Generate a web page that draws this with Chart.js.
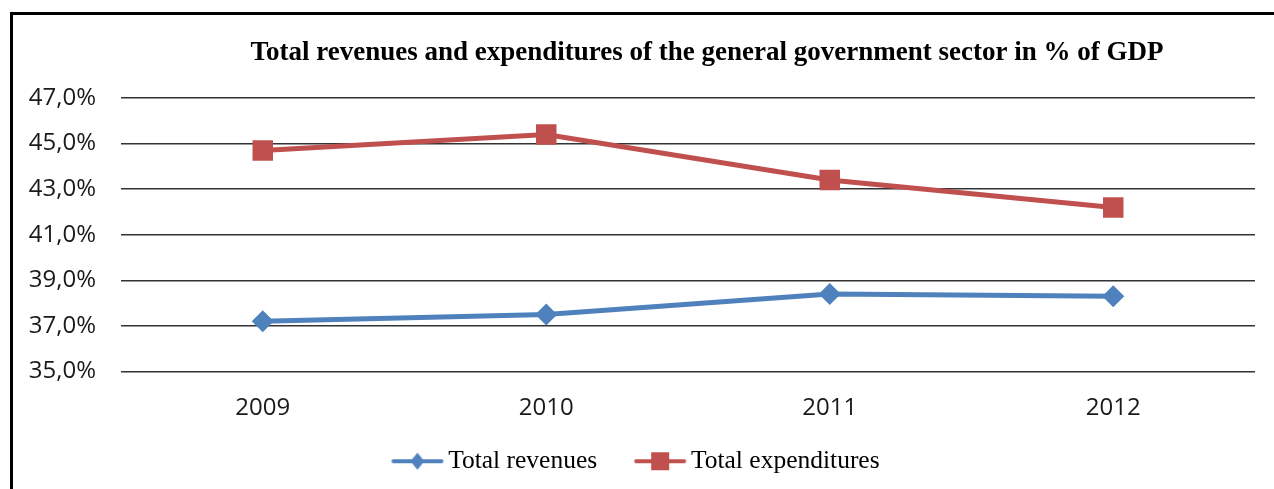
<!DOCTYPE html>
<html lang="en">
<head>
<meta charset="UTF-8">
<title>Total revenues and expenditures</title>
<script src="https://cdn.jsdelivr.net/npm/chart.js"></script>
<style>
    html, body { margin: 0; padding: 0; background: #fff; overflow: hidden; }
    #wrap { position: relative; width: 1274px; height: 489px; }
    #frame {
        position: absolute; left: 10px; top: 12px; right: -5px; bottom: -5px;
        border-top: 3px solid #000; border-left: 3px solid #000;
        pointer-events: none;
    }
</style>
</head>
<body>
<div id="wrap">
    <canvas id="myLineChart" width="1274" height="489"></canvas>
    <div id="frame"></div>
</div>
<script>
// data
var years = ['2009', '2010', '2011', '2012'];
var revenues = [37.2, 37.5, 38.4, 38.3];
var expenditures = [44.7, 45.4, 43.4, 42.2];
var seriesNames = ['Total revenues', 'Total expenditures'];
var titleText = 'Total revenues and expenditures of the general government sector in % of GDP';
var yMin = 35, yMax = 47, yStep = 2;

var blue = '#4F81BD';
var red = '#C0504D';

// line+marker picture for the legend (80px wide, centred on a 60px box);
// the line sits on the right part so it ends just before the text
function legendIcon(color, shape) {
    var c = document.createElement('canvas');
    c.width = 80; c.height = 24;
    var g = c.getContext('2d');
    g.strokeStyle = color;
    g.lineWidth = 4;
    g.lineCap = 'round';
    g.beginPath(); g.moveTo(28, 12); g.lineTo(76, 12); g.stroke();
    g.fillStyle = color;
    if (shape === 'diamond') {
        g.beginPath();
        g.moveTo(52, 3.5); g.lineTo(59, 12); g.lineTo(52, 20.5); g.lineTo(45, 12);
        g.closePath(); g.fill();
    } else {
        g.fillRect(43, 3, 18, 18);
    }
    return c;
}
var icons = [legendIcon(blue, 'diamond'), legendIcon(red, 'square')];

// title is drawn by hand so it can sit off-centre like the original
var titlePlugin = {
    id: 'sheetTitle',
    afterDraw: function (chart) {
        var ctx = chart.ctx;
        ctx.save();
        ctx.font = 'bold 27px "Liberation Serif"';
        ctx.fillStyle = '#000';
        ctx.textAlign = 'center';
        ctx.textBaseline = 'middle';
        ctx.fillText(titleText, 707, 53);
        ctx.restore();
    }
};

var ctxLine = document.getElementById('myLineChart').getContext('2d');
var myLineChart = new Chart(ctxLine, {
    type: 'line',
    data: {
        labels: years,
        datasets: [{
            label: seriesNames[0],
            data: revenues,
            borderColor: blue,
            backgroundColor: blue,
            borderWidth: 5,
            pointStyle: 'rectRot',
            pointRadius: 11,
            pointHoverRadius: 11,
            pointBorderWidth: 0,
            tension: 0
        }, {
            label: seriesNames[1],
            data: expenditures,
            borderColor: red,
            backgroundColor: red,
            borderWidth: 5,
            pointStyle: 'rect',
            pointRadius: 14.5,
            pointHoverRadius: 14.5,
            pointBorderWidth: 0,
            tension: 0
        }]
    },
    options: {
        responsive: false,
        animation: false,
        layout: { padding: { top: 98, right: 19, left: 0, bottom: 5 } },
        scales: {
            x: {
                offset: true,
                afterFit: function (scale) { scale.height = 56; },
                grid: { display: false },
                border: { display: false },
                ticks: {
                    color: '#1a1a1a',
                    font: { family: '"Open Sans"', size: 24 },
                    padding: 14
                }
            },
            y: {
                min: yMin,
                max: yMax,
                afterFit: function (scale) { scale.width = 121; },
                grid: { color: '#333', lineWidth: 1.5, drawTicks: false },
                border: { display: false },
                ticks: {
                    stepSize: yStep,
                    color: '#1a1a1a',
                    padding: 25,
                    font: { family: '"Open Sans"', size: 24 },
                    callback: function (v) { return v.toFixed(1).replace('.', ',') + '%'; }
                }
            }
        },
        plugins: {
            title: { display: false },
            tooltip: { enabled: false },
            legend: {
                position: 'bottom',
                labels: {
                    usePointStyle: true,
                    pointStyleWidth: 60,
                    color: '#000',
                    padding: 21,
                    font: { family: '"Liberation Serif"', size: 25.5 },
                    generateLabels: function (chart) {
                        var items = Chart.defaults.plugins.legend.labels.generateLabels(chart);
                        items.forEach(function (it, i) { it.pointStyle = icons[i]; });
                        return items;
                    }
                }
            }
        }
    },
    plugins: [titlePlugin]
});
</script>
</body>
</html>
